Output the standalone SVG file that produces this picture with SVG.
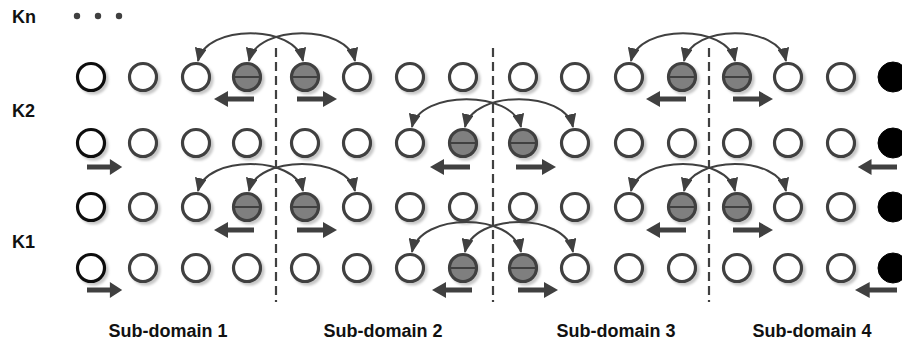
<svg xmlns="http://www.w3.org/2000/svg" xmlns:xlink="http://www.w3.org/1999/xlink" width="902" height="346" viewBox="0 0 902 346">
<style>
.lbl{font-family:"Liberation Sans",Arial,sans-serif;font-weight:bold;font-size:18px;fill:#111}
.o{fill:#fff;stroke:#404040;stroke-width:3.2;filter:url(#sh)}
.b{fill:#fff;stroke:#111;stroke-width:3.2;filter:url(#sh)}
.g{fill:#7f7f7f;stroke:#404040;stroke-width:3.2;filter:url(#sh)}
.k{fill:#000;stroke:#000;stroke-width:1}
.m{stroke:#404040;stroke-width:2}
.arc{fill:none;stroke:#404040;stroke-width:2;marker-start:url(#ah);marker-end:url(#ah)}
.dash{stroke:#404040;stroke-width:2.2;stroke-dasharray:9 5}
</style>
<defs>
<filter id="sh" x="-30%" y="-30%" width="170%" height="170%">
<feDropShadow dx="2.5" dy="2.5" stdDeviation="1" flood-color="#000" flood-opacity="0.22"/>
</filter>
<marker id="ah" markerUnits="userSpaceOnUse" viewBox="0 0 14 12" markerWidth="14" markerHeight="12" refX="13" refY="6" orient="auto-start-reverse">
<path d="M0,0 L14,6 L0,12 Z" fill="#404040"/>
</marker>
<path id="ar" d="M0,-2.5 H26 V-8 L40,0 L26,8 V2.5 H0 Z" fill="#404040"/>
<circle id="co" r="13.5" class="o"/>
<circle id="cb" r="13.5" class="b"/>
<circle id="ck" r="15" class="k"/>
<g id="cg"><circle r="13.5" class="g"/><line x1="-13" y1="0" x2="13" y2="0" class="m"/></g>
</defs>

<g id="labels">
<text class="lbl" x="12" y="23">Kn</text>
<circle cx="77" cy="16" r="3.2" fill="#404040"/>
<circle cx="98" cy="16" r="3.2" fill="#404040"/>
<circle cx="119" cy="16" r="3.2" fill="#404040"/>
<text class="lbl" x="12" y="117">K2</text>
<text class="lbl" x="12" y="248">K1</text>
<text class="lbl" x="168" y="337" text-anchor="middle">Sub-domain 1</text>
<text class="lbl" x="383" y="337" text-anchor="middle">Sub-domain 2</text>
<text class="lbl" x="616" y="337" text-anchor="middle">Sub-domain 3</text>
<text class="lbl" x="812" y="337" text-anchor="middle">Sub-domain 4</text>
</g>

<g id="dividers">
<line class="dash" x1="276" y1="48" x2="276" y2="302"/>
<line class="dash" x1="493" y1="48" x2="493" y2="302"/>
<line class="dash" x1="709" y1="48" x2="709" y2="302"/>
</g>

<g id="row1">
<g id="r1c1"><use xlink:href="#cb" x="91" y="77"/></g>
<g id="r1c2"><use xlink:href="#co" x="143" y="77"/></g>
<g id="r1c3"><use xlink:href="#co" x="196" y="77"/></g>
<g id="r1c4"><use xlink:href="#cg" x="247" y="77"/></g>
<g id="r1c5"><use xlink:href="#cg" x="305" y="77"/></g>
<g id="r1c6"><use xlink:href="#co" x="357" y="77"/></g>
<g id="r1c7"><use xlink:href="#co" x="410" y="77"/></g>
<g id="r1c8"><use xlink:href="#co" x="463" y="77"/></g>
<g id="r1c9"><use xlink:href="#co" x="523" y="77"/></g>
<g id="r1c10"><use xlink:href="#co" x="575" y="77"/></g>
<g id="r1c11"><use xlink:href="#co" x="629" y="77"/></g>
<g id="r1c12"><use xlink:href="#cg" x="682" y="77"/></g>
<g id="r1c13"><use xlink:href="#cg" x="737" y="77"/></g>
<g id="r1c14"><use xlink:href="#co" x="788" y="77"/></g>
<g id="r1c15"><use xlink:href="#co" x="841" y="77"/></g>
<g id="r1c16"><use xlink:href="#ck" x="893" y="77"/></g>
</g>

<g id="row2">
<g id="r2c1"><use xlink:href="#cb" x="91" y="143"/></g>
<g id="r2c2"><use xlink:href="#co" x="143" y="143"/></g>
<g id="r2c3"><use xlink:href="#co" x="196" y="143"/></g>
<g id="r2c4"><use xlink:href="#co" x="247" y="143"/></g>
<g id="r2c5"><use xlink:href="#co" x="305" y="143"/></g>
<g id="r2c6"><use xlink:href="#co" x="357" y="143"/></g>
<g id="r2c7"><use xlink:href="#co" x="410" y="143"/></g>
<g id="r2c8"><use xlink:href="#cg" x="463" y="143"/></g>
<g id="r2c9"><use xlink:href="#cg" x="523" y="143"/></g>
<g id="r2c10"><use xlink:href="#co" x="575" y="143"/></g>
<g id="r2c11"><use xlink:href="#co" x="629" y="143"/></g>
<g id="r2c12"><use xlink:href="#co" x="682" y="143"/></g>
<g id="r2c13"><use xlink:href="#co" x="737" y="143"/></g>
<g id="r2c14"><use xlink:href="#co" x="788" y="143"/></g>
<g id="r2c15"><use xlink:href="#co" x="841" y="143"/></g>
<g id="r2c16"><use xlink:href="#ck" x="893" y="143"/></g>
</g>

<g id="row3">
<g id="r3c1"><use xlink:href="#cb" x="91" y="207"/></g>
<g id="r3c2"><use xlink:href="#co" x="143" y="207"/></g>
<g id="r3c3"><use xlink:href="#co" x="196" y="207"/></g>
<g id="r3c4"><use xlink:href="#cg" x="247" y="207"/></g>
<g id="r3c5"><use xlink:href="#cg" x="305" y="207"/></g>
<g id="r3c6"><use xlink:href="#co" x="357" y="207"/></g>
<g id="r3c7"><use xlink:href="#co" x="410" y="207"/></g>
<g id="r3c8"><use xlink:href="#co" x="463" y="207"/></g>
<g id="r3c9"><use xlink:href="#co" x="523" y="207"/></g>
<g id="r3c10"><use xlink:href="#co" x="575" y="207"/></g>
<g id="r3c11"><use xlink:href="#co" x="629" y="207"/></g>
<g id="r3c12"><use xlink:href="#cg" x="682" y="207"/></g>
<g id="r3c13"><use xlink:href="#cg" x="737" y="207"/></g>
<g id="r3c14"><use xlink:href="#co" x="788" y="207"/></g>
<g id="r3c15"><use xlink:href="#co" x="841" y="207"/></g>
<g id="r3c16"><use xlink:href="#ck" x="893" y="207"/></g>
</g>

<g id="row4">
<g id="r4c1"><use xlink:href="#cb" x="91" y="268"/></g>
<g id="r4c2"><use xlink:href="#co" x="143" y="268"/></g>
<g id="r4c3"><use xlink:href="#co" x="196" y="268"/></g>
<g id="r4c4"><use xlink:href="#co" x="247" y="268"/></g>
<g id="r4c5"><use xlink:href="#co" x="305" y="268"/></g>
<g id="r4c6"><use xlink:href="#co" x="357" y="268"/></g>
<g id="r4c7"><use xlink:href="#co" x="410" y="268"/></g>
<g id="r4c8"><use xlink:href="#cg" x="463" y="268"/></g>
<g id="r4c9"><use xlink:href="#cg" x="523" y="268"/></g>
<g id="r4c10"><use xlink:href="#co" x="575" y="268"/></g>
<g id="r4c11"><use xlink:href="#co" x="629" y="268"/></g>
<g id="r4c12"><use xlink:href="#co" x="682" y="268"/></g>
<g id="r4c13"><use xlink:href="#co" x="737" y="268"/></g>
<g id="r4c14"><use xlink:href="#co" x="788" y="268"/></g>
<g id="r4c15"><use xlink:href="#co" x="841" y="268"/></g>
<g id="r4c16"><use xlink:href="#ck" x="893" y="268"/></g>
</g>

<g id="connectors">
<path class="arc" d="M198,61 C206,24 295,24 303,61"/>
<path class="arc" d="M249,61 C257,24 347,24 355,61"/>
<path class="arc" d="M631,61 C639,24 727,24 735,61"/>
<path class="arc" d="M684,61 C692,24 778,24 786,61"/>
<path class="arc" d="M412,127 C420,90 513,90 521,127"/>
<path class="arc" d="M465,127 C473,90 565,90 573,127"/>
<path class="arc" d="M198,191 C206,155 295,155 303,191"/>
<path class="arc" d="M249,191 C257,155 347,155 355,191"/>
<path class="arc" d="M631,191 C639,155 727,155 735,191"/>
<path class="arc" d="M684,191 C692,155 778,155 786,191"/>
<path class="arc" d="M412,252 C420,212 513,212 521,252"/>
<path class="arc" d="M465,252 C473,212 565,212 573,252"/>

<use xlink:href="#ar" transform="translate(254,99) scale(-1,1)"/>
<use xlink:href="#ar" transform="translate(297,99)"/>
<use xlink:href="#ar" transform="translate(686,99) scale(-1,1)"/>
<use xlink:href="#ar" transform="translate(733,99)"/>

<use xlink:href="#ar" transform="translate(87,167) scale(0.88,1)"/>
<use xlink:href="#ar" transform="translate(470,167) scale(-1,1)"/>
<use xlink:href="#ar" transform="translate(516,167)"/>
<use xlink:href="#ar" transform="translate(897,167) scale(-0.98,1)"/>

<use xlink:href="#ar" transform="translate(254,230) scale(-1,1)"/>
<use xlink:href="#ar" transform="translate(297,230)"/>
<use xlink:href="#ar" transform="translate(686,230) scale(-1,1)"/>
<use xlink:href="#ar" transform="translate(733,230)"/>

<use xlink:href="#ar" transform="translate(87,290) scale(0.88,1)"/>
<use xlink:href="#ar" transform="translate(472,290) scale(-1,1)"/>
<use xlink:href="#ar" transform="translate(518,290)"/>
<use xlink:href="#ar" transform="translate(897,290) scale(-1.05,1)"/>
</g>
</svg>
